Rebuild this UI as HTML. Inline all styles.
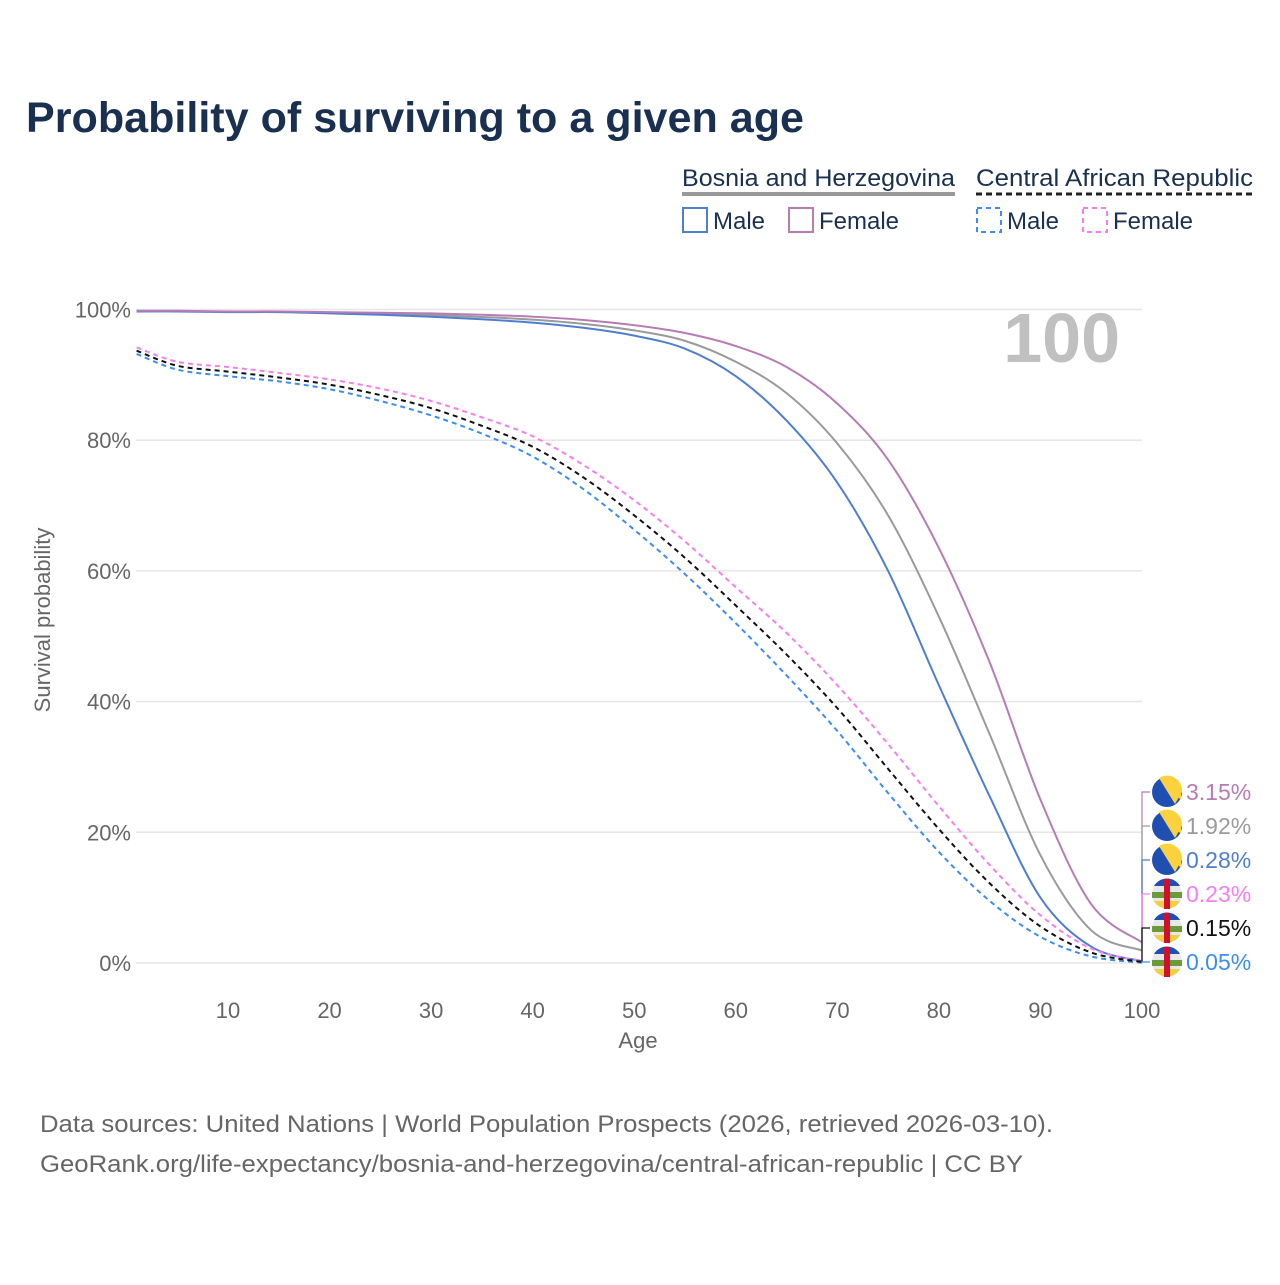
<!DOCTYPE html>
<html><head><meta charset="utf-8"><style>
body{margin:0;background:#fff;width:1280px;height:1280px;overflow:hidden;font-family:"Liberation Sans",sans-serif}
</style></head><body>
<svg id="chart" width="1280" height="1280" viewBox="0 0 1280 1280" xmlns="http://www.w3.org/2000/svg">
<text x="26" y="132" font-size="43" font-weight="bold" fill="#1a3050" textLength="778" lengthAdjust="spacingAndGlyphs">Probability of surviving to a given age</text>
<g font-size="24" fill="#1a3050">
 <text x="682" y="186" textLength="273" lengthAdjust="spacingAndGlyphs">Bosnia and Herzegovina</text>
 <line x1="682" y1="194" x2="955" y2="194" stroke="#999" stroke-width="4"/>
 <text x="976" y="186" textLength="277" lengthAdjust="spacingAndGlyphs">Central African Republic</text>
 <line x1="976" y1="194" x2="1255" y2="194" stroke="#222" stroke-width="3" stroke-dasharray="6,4"/>
 <rect x="683" y="208" width="24" height="24" fill="none" stroke="#4e7fcf" stroke-width="2"/>
 <text x="713" y="229">Male</text>
 <rect x="789" y="208" width="24" height="24" fill="none" stroke="#b77bb5" stroke-width="2"/>
 <text x="819" y="229">Female</text>
 <rect x="977" y="208" width="24" height="24" fill="none" stroke="#3b8ef0" stroke-width="2" stroke-dasharray="5,4"/>
 <text x="1007" y="229">Male</text>
 <rect x="1083" y="208" width="24" height="24" fill="none" stroke="#f77ef0" stroke-width="2" stroke-dasharray="5,4"/>
 <text x="1113" y="229">Female</text>
</g>
<text x="1120" y="362" font-size="70" font-weight="bold" fill="#c0c0c0" text-anchor="end">100</text>
<g id="grid"></g>
<g id="axes"></g>
<g id="series"></g>
<g id="endlabels"></g>
<text x="638" y="1048" font-size="22" fill="#666" text-anchor="middle">Age</text>
<text transform="translate(50,620) rotate(-90)" font-size="22" fill="#666" text-anchor="middle">Survival probability</text>
<text x="40" y="1132" font-size="24" fill="#666" textLength="1013" lengthAdjust="spacingAndGlyphs">Data sources: United Nations | World Population Prospects (2026, retrieved 2026-03-10).</text>
<text x="40" y="1172" font-size="24" fill="#666" textLength="983" lengthAdjust="spacingAndGlyphs">GeoRank.org/life-expectancy/bosnia-and-herzegovina/central-african-republic | CC BY</text>
</svg>
<script>
const ages=[1,5,10,15,20,25,30,35,40,45,50,55,60,65,70,75,80,85,90,95,100];
const bihMale=[99.7,99.7,99.6,99.6,99.4,99.2,98.9,98.5,98.0,97.2,96.0,94.0,89.8,83.0,73.5,60.0,42.5,25.5,10.0,2.5,0.28];
const bihFemale=[99.8,99.8,99.7,99.7,99.6,99.5,99.4,99.2,98.9,98.4,97.6,96.4,94.4,91.2,85.6,77.0,63.5,46.0,25.0,9.0,3.15];
const bihTotal=[99.75,99.75,99.65,99.65,99.5,99.35,99.15,98.85,98.45,97.8,96.8,95.2,92.0,87.2,79.5,68.5,53.0,35.0,16.5,5.0,1.92];
const carMale=[93.2,90.8,89.8,89.0,87.8,86.0,83.8,81.0,77.5,72.5,66.3,59.5,52.0,44.0,35.5,26.0,17.0,9.5,4.0,1.0,0.05];
const carFemale=[94.2,92.0,91.2,90.3,89.3,87.9,86.0,83.5,80.6,76.2,70.8,64.5,57.5,50.5,42.5,33.5,24.0,15.0,7.3,2.2,0.23];
const carTotal=[93.7,91.4,90.5,89.6,88.5,86.9,84.9,82.2,79.0,74.3,68.5,62.0,54.7,47.2,39.0,29.7,20.5,12.2,5.6,1.6,0.15];
const yTicks=[0,20,40,60,80,100];
const xTicks=[10,20,30,40,50,60,70,80,90,100];
const X=a=>136.6+(a-1)*(1142-136.6)/99;
const Y=p=>963-p*6.535;
const NS="http://www.w3.org/2000/svg";
function mk(tag,attrs,parent){const e=document.createElementNS(NS,tag);for(const k in attrs)e.setAttribute(k,attrs[k]);parent.appendChild(e);return e;}
const grid=document.getElementById('grid'),axes=document.getElementById('axes'),ser=document.getElementById('series'),el=document.getElementById('endlabels');
yTicks.forEach(t=>{
 const l=mk('line',{x1:136,x2:1142,y1:Y(t),y2:Y(t),stroke:'#e6e6e6','stroke-width':1.5},grid);
 
 
 const tx=mk('text',{x:131,y:Y(t)+8,'font-size':22,fill:'#666','text-anchor':'end'},axes);
 tx.textContent=t+'%';
 
 
});
xTicks.forEach(t=>{
 const tx=mk('text',{x:X(t),y:1018,'font-size':22,fill:'#666','text-anchor':'middle'},axes);
 tx.textContent=t;
 
 
});
function path(vals){
 const p=ages.map((a,i)=>[X(a),Y(vals[i])]);
 let d='M'+p[0][0]+','+p[0][1];
 for(let i=0;i<p.length-1;i++){
  const p0=p[Math.max(0,i-1)],p1=p[i],p2=p[i+1],p3=p[Math.min(p.length-1,i+2)];
  const c1=[p1[0]+(p2[0]-p0[0])/6,p1[1]+(p2[1]-p0[1])/6],c2=[p2[0]-(p3[0]-p1[0])/6,p2[1]-(p3[1]-p1[1])/6];
  d+=' C'+c1.join(',')+' '+c2.join(',')+' '+p2.join(',');
 }
 return d;
}
const defs=[
 [bihTotal,'#9a9a9a',null,'line-bih-total'],
 [bihMale,'#4e7fcf',null,'line-bih-male'],
 [bihFemale,'#b77bb5',null,'line-bih-female'],
 [carMale,'#3b8ef0','5,4','line-car-male'],
 [carFemale,'#f77ef0','5,4','line-car-female'],
 [carTotal,'#111','5,4','line-car-total']];
defs.forEach(([v,c,da,n])=>{
 const a={d:path(v),fill:'none',stroke:c,'stroke-width':2};
 if(da)a['stroke-dasharray']=da;
 const e=mk('path',a,ser);
 
 
});
const labels=[[bihFemale,'#b77bb5','bih'],[bihTotal,'#9a9a9a','bih'],[bihMale,'#4e7fcf','bih'],[carFemale,'#f77ef0','car'],[carTotal,'#111','car'],[carMale,'#3b8ef0','car']];
labels.forEach(([v,c,f],i)=>{
 const ly=792+i*34;
 mk('polyline',{points:`1142,${Y(v[v.length-1])} 1142,${ly} 1150,${ly}`,fill:'none',stroke:c,'stroke-width':1.2},el);
 const g=mk('g',{},el);
 
 
 const cx=1167,cy=ly;
 if(f==='bih'){
  mk('circle',{cx,cy,r:15,fill:'#1f4fb0'},g);
  mk('path',{d:`M${cx-8},${cy-14} L${cx+14},${cy-6} L${cx+14},${cy+8} Z`,fill:'#fbd13d'},g);
  mk('path',{d:`M${cx-8},${cy-14} A15,15 0 0 1 ${cx+15},${cy} L${cx+8},${cy+12} Z`,fill:'#fbd13d'},g);
 }else{
  mk('circle',{cx,cy,r:15,fill:'#e8e8e8'},g);
  mk('path',{d:`M${cx-15},${cy-2} h30 v6 h-30 Z`,fill:'#6a9a3a'},g);
  mk('path',{d:`M${cx-13},${cy+7} A15,15 0 0 0 ${cx+13},${cy+7} Z`,fill:'#f2cf3c'},g);
  mk('path',{d:`M${cx-13},${cy-8} A15,15 0 0 1 ${cx+13},${cy-8} Z`,fill:'#1f4fb0'},g);
  mk('rect',{x:cx-3,y:cy-15,width:6,height:30,fill:'#d2102a'},g);
 }
 const t=mk('text',{x:1186,y:ly+8,'font-size':23,fill:c},el);
 t.textContent=v[v.length-1].toFixed(2)+'%';
 
 
});
</script>
</body></html>
